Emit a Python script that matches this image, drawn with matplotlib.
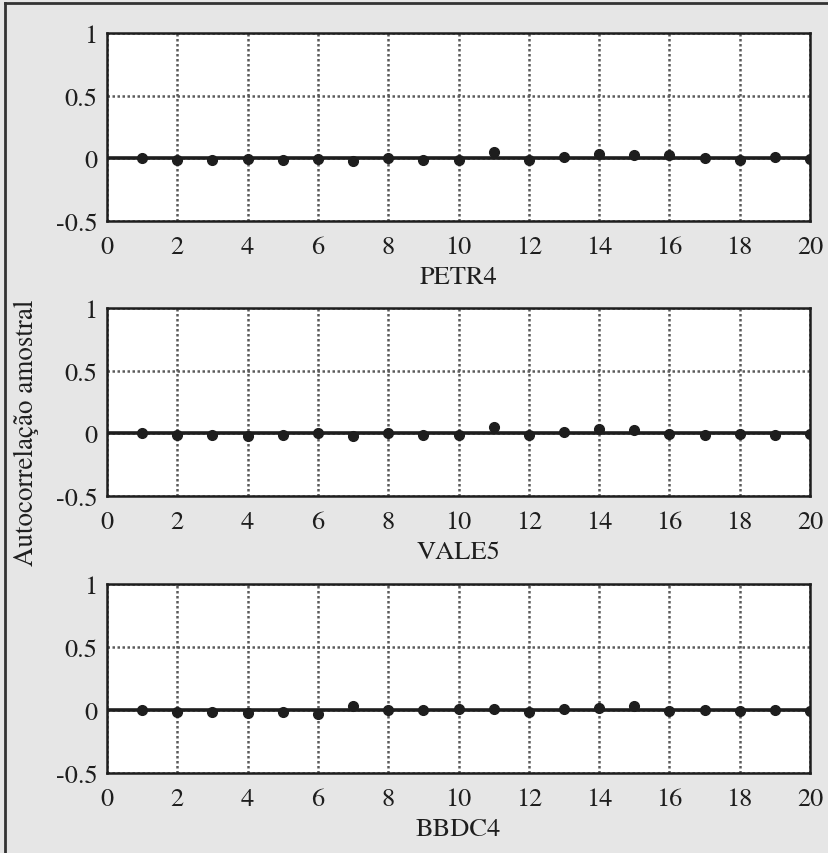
import numpy as np
import matplotlib.pyplot as plt
from matplotlib.lines import Line2D

plt.rcParams['font.family'] = ['TeX Gyre Termes', 'Liberation Serif', 'DejaVu Serif']

lags = list(range(1, 21))
nomes = ['PETR4', 'VALE5', 'BBDC4']
petr4 = [0.0, -0.016, -0.016, -0.008, -0.016, -0.005, -0.02, 0.0, -0.016, -0.016,
         0.05, -0.016, 0.008, 0.035, 0.03, 0.025, 0.0, -0.01, 0.01, -0.005]
vale5 = [0.0, -0.016, -0.016, -0.02, -0.016, 0.0, -0.025, 0.0, -0.016, -0.016,
         0.05, -0.016, 0.01, 0.035, 0.03, -0.008, -0.01, -0.008, -0.016, -0.005]
bbdc4 = [0.0, -0.016, -0.016, -0.02, -0.016, -0.03, 0.03, 0.0, -0.003, 0.01,
         0.01, -0.016, 0.008, 0.012, 0.035, -0.008, 0.0, -0.008, 0.0, -0.005]
series = [petr4, vale5, bbdc4]

fig = plt.figure(figsize=(8.29, 8.54), dpi=100, facecolor='#e6e6e6')

# caixas dos eixos em pixels (topo, base)
caixas = [(34, 222), (309, 497), (585, 774)]
W, H = 829, 854
left, right = 107, 810

for (top, bot), nome, vals in zip(caixas, nomes, series):
    ax = fig.add_axes([left / W, 1 - bot / H, (right - left) / W, (bot - top) / H])
    ax.set_facecolor('white')
    ax.axhline(0, color='#1e1e1e', lw=2.6, zorder=2)
    ax.plot(lags, vals, 'o', color='#1e1e1e', ms=7, zorder=3)
    ax.set_xlim(0, 20)
    ax.set_ylim(-0.5, 1)
    ax.set_xticks(range(0, 21, 2))
    ax.set_yticks([-0.5, 0, 0.5, 1])
    ax.set_yticklabels(['-0.5', '0', '0.5', '1'])
    ax.grid(True, linestyle=(0, (1, 1)), color='#5a5a5a', lw=1.8)
    ax.tick_params(length=0, labelsize=19, colors='#1e1e1e')
    ax.tick_params(axis='y', pad=7)
    ax.tick_params(axis='x', pad=10)
    for s in ax.spines.values():
        s.set_linewidth(1.8)
        s.set_color('#1e1e1e')
    ax.set_xlabel(nome, fontsize=19, labelpad=4, color='#1e1e1e')

fig.text(26 / W, 1 - 433 / H, 'Autocorrelação amostral', rotation=90,
         ha='center', va='center', fontsize=19.5, color='#1e1e1e')

# moldura externa (topo e esquerda)
fig.add_artist(Line2D([5 / W, 5 / W], [0, 1 - 4 / H], transform=fig.transFigure,
                      color='#333333', lw=2))
fig.add_artist(Line2D([5 / W, 1], [1 - 4 / H, 1 - 4 / H], transform=fig.transFigure,
                      color='#333333', lw=2))

fig.savefig('out.png', dpi=100, facecolor=fig.get_facecolor())
plt.close()
